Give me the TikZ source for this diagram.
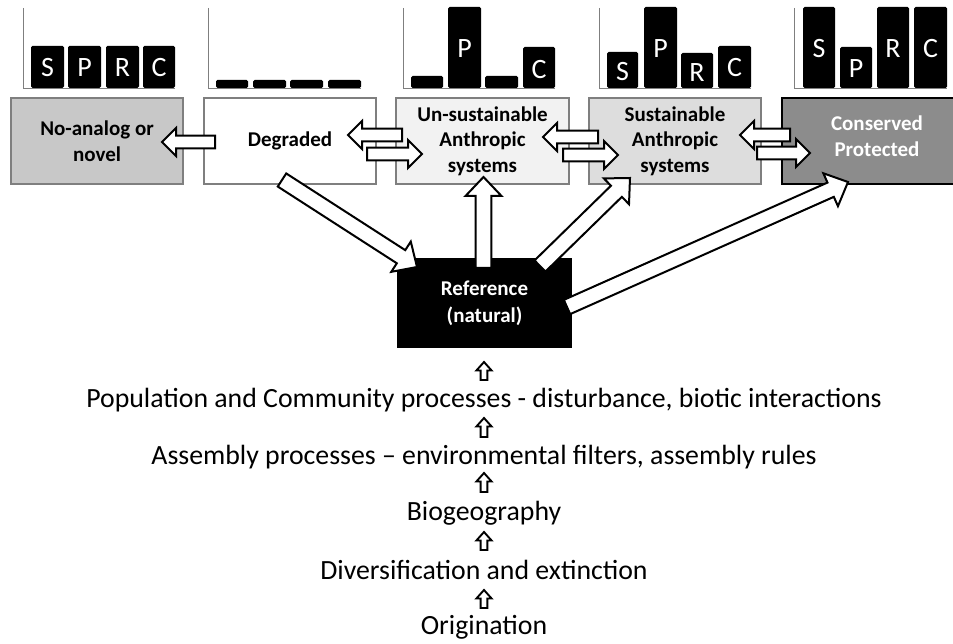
\documentclass[tikz,border=0pt]{standalone}
\usepackage{fontspec}
\setmainfont{Carlito}
\usetikzlibrary{calc}

\definecolor{edgegray}{HTML}{7F7F7F}
\definecolor{novelfill}{HTML}{C8C8C8}
\definecolor{unsustfill}{HTML}{F2F2F2}
\definecolor{sustfill}{HTML}{DDDDDD}
\definecolor{consfill}{HTML}{8C8C8C}

% block arrow: [style] #2 tail, #3 tip, #4 half shaft width, #5 half head width, #6 head length
\newcommand\bkarrow[6][hollow]{%
  \path ($(#3)!#6!(#2)$) coordinate (bkbase);
  \draw[#1] ($(#2)!#4!90:(#3)$) -- ($(bkbase)!#4!90:(#3)$) -- ($(bkbase)!#5!90:(#3)$)
    -- (#3) -- ($(bkbase)!#5!-90:(#3)$) -- ($(bkbase)!#4!-90:(#3)$)
    -- ($(#2)!#4!-90:(#3)$) -- cycle;}

\begin{document}
\begin{tikzpicture}[x=1pt,y=-1pt,
  hollow/.style={draw=black,fill=white,line width=2pt,line join=miter},
  thinhollow/.style={draw=black,fill=white,line width=1.9pt,line join=miter},
  statebox/.style={draw=edgegray,line width=2.5pt,minimum width=172pt,minimum height=86pt,
    inner sep=0pt,align=center,font=\fontsize{21}{25.5}\selectfont\bfseries},
  bar/.style={fill=black,rounded corners=1.5pt},
  barletter/.style={text=white,font=\fontsize{28}{28}\selectfont,inner sep=0pt},
  axisline/.style={draw=edgegray,line width=0.9pt},
  proc/.style={font=\fontsize{27.8}{32}\selectfont,inner sep=0pt}]

\clip (0,0) rectangle (953,644);

% ---------- bar charts (S, P, R, C) ----------
% chart over "No-analog or novel"
\draw[axisline] (23,8) |- (175,88);
\foreach \xa/\xb/\top/\ly/\lt in {31/64/46/67.5/S,68/101/46/67.5/P,106/139/46/67.5/R,143/175/46/67.5/C}{
  \fill[bar] (\xa,\top) rectangle (\xb,88);
  \node[barletter] at ({(\xa+\xb)/2},\ly) {\lt};}
% chart over "Degraded"
\draw[axisline] (208,8) |- (361,88);
\foreach \xa/\xb in {216/248,253/286,290/323,328/361}{
  \fill[bar] (\xa,80) rectangle (\xb,88);}
% chart over "Un-sustainable"
\draw[axisline] (403,8) |- (555,88);
\foreach \xa/\xb/\top in {411/443/76,448/481/7,485/518/76,523/555/47}{
  \fill[bar] (\xa,\top) rectangle (\xb,88);}
\node[barletter] at (464.5,48.5) {P};
\node[barletter] at (539,69.5) {C};
% chart over "Sustainable"
\draw[axisline] (599,8) |- (751,88);
\foreach \xa/\xb/\top/\ly/\lt in {607/638/52/72/S,644/677/7/49/P,681/713/53/73/R,718/751/46/68/C}{
  \fill[bar] (\xa,\top) rectangle (\xb,88);
  \node[barletter] at ({(\xa+\xb)/2},\ly) {\lt};}
% chart over "Conserved"
\draw[axisline] (794,8) |- (947,88);
\foreach \xa/\xb/\top/\ly/\lt in {803/835/7/48.5/S,840/872/47/69/P,877/909/7/48.5/R,914/947/7/48.5/C}{
  \fill[bar] (\xa,\top) rectangle (\xb,88);
  \node[barletter] at ({(\xa+\xb)/2},\ly) {\lt};}

% ---------- state boxes ----------
\node[statebox,fill=novelfill] (novel) at (97,141) {No-analog or\\novel};
\node[statebox,fill=white] (degr) at (290,141) {Degraded};
\node[statebox,fill=unsustfill,minimum width=173pt] (unsust) at (482.5,141) {Un-sustainable\\Anthropic\\systems};
\node[statebox,fill=sustfill] (sust) at (675,141) {Sustainable\\Anthropic\\systems};
\node[statebox,fill=consfill,draw=black,minimum width=192pt] (cons) at (878,141) {};
\node[font=\fontsize{21}{25.5}\selectfont\bfseries,text=white,align=center,inner sep=0pt]
  (constext) at (877,136) {Conserved\\Protected};

\node[fill=black,minimum width=175pt,minimum height=90pt,inner sep=0pt,align=center,
  text=white,font=\fontsize{21}{27}\selectfont\bfseries] (ref) at (484.5,303) {Reference\\(natural)};

% ---------- arrows between neighbouring states ----------
\coordinate (a0t) at (215,142);   \coordinate (a0h) at (162,142);
\coordinate (a1t) at (402,135);   \coordinate (a1h) at (348,135);
\coordinate (a2t) at (367,154);   \coordinate (a2h) at (422,154);
\coordinate (a3t) at (598,137);   \coordinate (a3h) at (543,137);
\coordinate (a4t) at (563,155);   \coordinate (a4h) at (618,155);
\coordinate (a5t) at (790,135);   \coordinate (a5h) at (740,135);
\coordinate (a6t) at (757,153);   \coordinate (a6h) at (810,153);
\foreach \n in {0,...,6}{\bkarrow{a\n t}{a\n h}{6.3pt}{14pt}{14pt}}

% ---------- arrows linking the reference state ----------
\coordinate (bdt) at (282,180);   \coordinate (bdh) at (417,267);
\coordinate (but) at (483.5,268); \coordinate (buh) at (483.5,177);
\coordinate (bst) at (540,266);   \coordinate (bsh) at (630,178);
\coordinate (bct) at (567,307);   \coordinate (bch) at (848,182);
\foreach \n in {d,u,s,c}{\bkarrow{b\n t}{b\n h}{7.8pt}{18pt}{19pt}}

% ---------- process hierarchy ----------
\node[proc] (pop) at (484,400) {Population and Community processes - disturbance, biotic interactions};
\node[proc] (asm) at (484,457) {Assembly processes – environmental filters, assembly rules};
\node[proc] (bio) at (484,513) {Biogeography};
\node[proc] (div) at (484,570) {Diversification and extinction};
\node[proc] (orig) at (484,627) {Origination};

\coordinate (u1t) at (484,380); \coordinate (u1h) at (484,362);
\coordinate (u2t) at (484,437); \coordinate (u2h) at (484,418);
\coordinate (u3t) at (484,492); \coordinate (u3h) at (484,473);
\coordinate (u4t) at (484,550); \coordinate (u4h) at (484,532);
\coordinate (u5t) at (484,608); \coordinate (u5h) at (484,590);
\foreach \n in {1,...,5}{\bkarrow[thinhollow]{u\n t}{u\n h}{3.4pt}{7.6pt}{8.5pt}}
\end{tikzpicture}
\end{document}
